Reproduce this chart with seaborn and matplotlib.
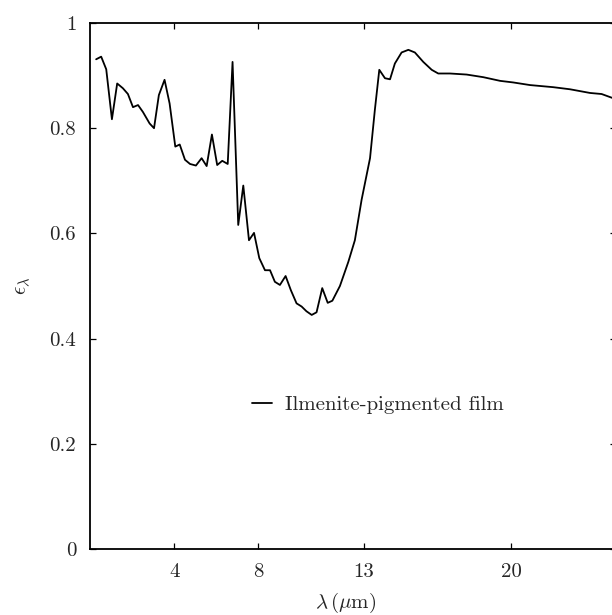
import matplotlib
matplotlib.use("Agg")
import matplotlib.pyplot as plt
import seaborn as sns
import pandas as pd

# Spectral emittance of an ilmenite-pigmented film
wavelength_um = [
    0.29, 0.53, 0.77, 1.04, 1.29, 1.56, 1.80, 2.04, 2.28, 2.51,
    2.83, 3.04, 3.27, 3.54, 3.78, 4.05, 4.26, 4.51, 4.75, 5.03,
    5.30, 5.54, 5.79, 6.04, 6.28, 6.54, 6.77, 7.04, 7.28, 7.55,
    7.79, 8.04, 8.31, 8.55, 8.78, 9.02, 9.29, 9.54, 9.81, 10.05,
    10.28, 10.53, 10.76, 11.03, 11.29, 11.51, 11.87, 12.27, 12.58, 12.90,
    13.30, 13.53, 13.74, 14.01, 14.25, 14.48, 14.80, 15.12, 15.43, 15.83,
    16.23, 16.54, 17.10, 17.89, 18.68, 19.48, 20.10, 20.90, 22.00, 22.80,
    23.75, 24.30, 24.78, 25.00,
]
emittance = [
    0.931, 0.936, 0.912, 0.817, 0.885, 0.876, 0.865, 0.840, 0.844, 0.831,
    0.809, 0.800, 0.863, 0.892, 0.847, 0.765, 0.769, 0.740, 0.732, 0.729,
    0.743, 0.728, 0.788, 0.730, 0.738, 0.732, 0.926, 0.616, 0.691, 0.587,
    0.601, 0.553, 0.530, 0.530, 0.508, 0.502, 0.519, 0.492, 0.467, 0.461,
    0.452, 0.445, 0.450, 0.496, 0.468, 0.472, 0.500, 0.546, 0.587, 0.664,
    0.743, 0.835, 0.911, 0.895, 0.893, 0.923, 0.944, 0.949, 0.944, 0.926,
    0.911, 0.904, 0.904, 0.902, 0.897, 0.890, 0.887, 0.882, 0.878, 0.874,
    0.867, 0.865, 0.858, 0.855,
]
series_name = "Ilmenite-pigmented film"

x_ticks = [4, 8, 13, 20]
x_tick_labels = ["4", "8", "13", "20"]
y_ticks = [0, 0.2, 0.4, 0.6, 0.8, 1]
y_tick_labels = ["0", "0.2", "0.4", "0.6", "0.8", "1"]

sns.set_style("ticks")
plt.rcParams["font.family"] = ["cmr10", "DejaVu Serif"]
plt.rcParams["mathtext.fontset"] = "cm"
plt.rcParams["axes.formatter.use_mathtext"] = True
plt.rcParams["axes.unicode_minus"] = False

df = pd.DataFrame({"wavelength": wavelength_um, "emittance": emittance})

fig = plt.figure(figsize=(6.12, 6.15), dpi=100)
# the frame runs slightly past the right edge of the canvas
ax = fig.add_axes([0.1471, 0.1073, 0.860, 0.8553])

sns.lineplot(data=df, x="wavelength", y="emittance", ax=ax, color="black",
             linewidth=1.3, label=series_name, sort=False, estimator=None)

ax.set_xlim(0, 25)
ax.set_ylim(0, 1)
ax.set_xticks(x_ticks)
ax.set_xticklabels(x_tick_labels)
ax.set_yticks(y_ticks)
ax.set_yticklabels(y_tick_labels)

fs = 15
ax.tick_params(axis="both", direction="in", length=4, width=0.9,
               top=True, right=True, labelsize=fs, pad=10, color="black")
for side in ax.spines.values():
    side.set_linewidth(1.3)
    side.set_color("black")

ax.set_xlabel(r"$\lambda\,(\mu\mathrm{m})$", fontsize=fs)
ax.set_ylabel(r"$\epsilon_\lambda$", fontsize=fs)
ax.xaxis.set_label_coords(0.485, -0.08)
ax.yaxis.set_label_coords(-0.108, 0.5)

ax.legend(loc="center left", bbox_to_anchor=(0.307, 0.274), frameon=False,
          fontsize=fs, handlelength=1.0, handletextpad=0.6,
          borderpad=0, borderaxespad=0)

fig.savefig("out.png", dpi=100)
